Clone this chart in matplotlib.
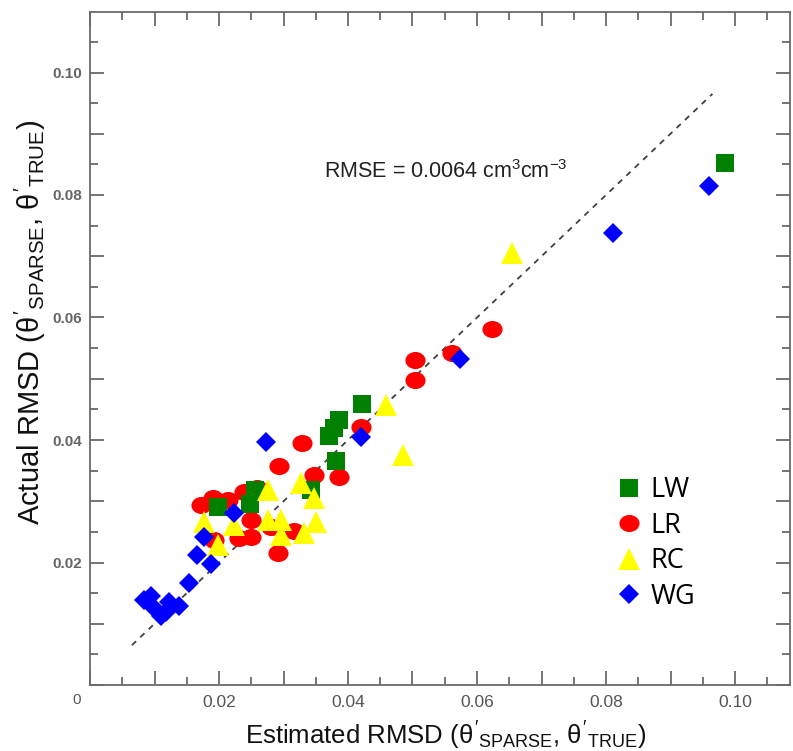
import matplotlib
matplotlib.use("Agg")
import matplotlib.pyplot as plt
from matplotlib import font_manager
from matplotlib.path import Path
from matplotlib.transforms import Affine2D
from matplotlib.ticker import MultipleLocator, FuncFormatter

# ---------------- data ----------------
lw_x = [0.0984, 0.0422, 0.0386, 0.0378, 0.0371, 0.0381, 0.0256, 0.0248, 0.0198, 0.0343]
lw_y = [0.0852, 0.0459, 0.0433, 0.0420, 0.0407, 0.0366, 0.0318, 0.0296, 0.0291, 0.0318]

lr_x = [0.0623, 0.0561, 0.0504, 0.0504, 0.0420, 0.0386, 0.0347, 0.0329, 0.0293, 0.0259,
        0.0239, 0.0214, 0.0191, 0.0172, 0.0250, 0.0231, 0.0250, 0.0281, 0.0316, 0.0291, 0.0192]
lr_y = [0.0581, 0.0542, 0.0531, 0.0498, 0.0421, 0.0340, 0.0343, 0.0395, 0.0358, 0.0322,
        0.0315, 0.0302, 0.0305, 0.0294, 0.0269, 0.0240, 0.0242, 0.0258, 0.0251, 0.0216, 0.0237]

rc_x = [0.0654, 0.0459, 0.0485, 0.0327, 0.0347, 0.0350, 0.0332, 0.0296, 0.0296, 0.0276,
        0.0276, 0.0223, 0.0177, 0.0198]
rc_y = [0.0705, 0.0457, 0.0376, 0.0330, 0.0305, 0.0266, 0.0248, 0.0269, 0.0245, 0.0318,
        0.0269, 0.0261, 0.0266, 0.0229]

wg_x = [0.0960, 0.0811, 0.0574, 0.0420, 0.0273, 0.0223, 0.0177, 0.0166, 0.0188, 0.0153,
        0.0084, 0.0095, 0.0099, 0.0110, 0.0122, 0.0138, 0.0118]
wg_y = [0.0815, 0.0738, 0.0532, 0.0405, 0.0397, 0.0281, 0.0242, 0.0212, 0.0198, 0.0167,
        0.0139, 0.0145, 0.0126, 0.0113, 0.0136, 0.0129, 0.0119]

line_x = [0.0065, 0.0965]
line_y = [0.0065, 0.0965]

x_ticklabels = ["0.02", "0.04", "0.06", "0.08", "0.10"]
y_ticklabels = ["0.02", "0.04", "0.06", "0.08", "0.10"]
rmse_text = "RMSE = 0.0064 cm$^{3}$cm$^{-3}$"

# ---------------- fonts ----------------
avail = {f.name for f in font_manager.fontManager.ttflist}
narrow = "Liberation Sans Narrow" if "Liberation Sans Narrow" in avail else "Liberation Sans"
plt.rcParams["font.family"] = ["Liberation Sans", "DejaVu Sans"]
plt.rcParams["mathtext.fontset"] = "custom"
plt.rcParams["mathtext.rm"] = narrow
plt.rcParams["mathtext.it"] = narrow
plt.rcParams["mathtext.bf"] = narrow

W, H = 793, 751
fig = plt.figure(figsize=(W / 100, H / 100), dpi=100)
L, R, T, B = 90, 790, 12, 685
ax = fig.add_axes([L / W, 1 - B / H, (R - L) / W, (B - T) / H])

xpp = 0.01 / 64.5   # data per pixel
ypp = 0.02 / 122.5
ax.set_xlim(0, (R - L) * xpp)
ax.set_ylim(0, (B - T) * ypp)

ellipse = Path.unit_circle().transformed(Affine2D().scale(1.18, 1.0))

ax.plot(line_x, line_y, color="#404040", lw=1.3, dashes=(3.2, 3.2), zorder=1)
ax.plot(lr_x, lr_y, ls="none", marker=ellipse, ms=14.5, mew=0, color="#ff0000", zorder=2, label="LR")
ax.plot(lw_x, lw_y, ls="none", marker="s", ms=13, mew=0, color="#008000", zorder=3, label="LW")
ax.plot(rc_x, rc_y, ls="none", marker="^", ms=15.5, mew=0, color="#ffff00", zorder=4, label="RC")
ax.plot(wg_x, wg_y, ls="none", marker="D", ms=10, mew=0, color="#0000ff", zorder=5, label="WG")

# ticks
for axis in (ax.xaxis, ax.yaxis):
    axis.set_major_locator(MultipleLocator(0.01))
    axis.set_minor_locator(MultipleLocator(0.005))

def fmt_factory(labels):
    def f(v, pos):
        k = int(round(v / 0.01))
        if k > 0 and k % 2 == 0 and k // 2 - 1 < len(labels):
            return labels[k // 2 - 1]
        return ""
    return f

ax.xaxis.set_major_formatter(FuncFormatter(fmt_factory(x_ticklabels)))
ax.yaxis.set_major_formatter(FuncFormatter(fmt_factory(y_ticklabels)))

ax.tick_params(which="both", direction="in", top=True, right=True, color="#6a6a6a", width=1.3)
ax.tick_params(which="major", length=10)
ax.tick_params(which="minor", length=5.5)
ax.tick_params(axis="x", which="major", pad=7, labelsize=12.5, labelcolor="#555555")
ax.tick_params(axis="y", which="major", pad=6, labelsize=11, labelcolor="#666666")
for lab in ax.get_xticklabels():
    lab.set_family([narrow, "DejaVu Sans"])
for lab in ax.get_yticklabels():
    lab.set_fontweight("bold")

for s in ax.spines.values():
    s.set_color("#6a6a6a")
    s.set_linewidth(1.3)

fig.text(77 / W, 1 - 700 / H, "0", ha="center", va="center", fontsize=11,
         color="#555555", family=[narrow, "DejaVu Sans"])

ax.set_xlabel(r"Estimated RMSD ($\theta'_{\mathrm{SPARSE}}$, $\theta'_{\mathrm{TRUE}}$)",
              fontsize=18.5, family=[narrow, "DejaVu Sans"], color="#111111")
ax.xaxis.set_label_coords((446 - L) / (R - L), (B - 720) / (B - T))
ax.set_ylabel(r"Actual RMSD ($\theta'_{\mathrm{SPARSE}}$, $\theta'_{\mathrm{TRUE}}$)",
              fontsize=21, family=[narrow, "DejaVu Sans"], color="#111111")
ax.yaxis.set_label_coords((48 - L) / (R - L), (B - 322) / (B - T))

ax.text(0.0363, 0.0838, rmse_text, fontsize=15.5, color="#222222", va="center", ha="left")

handles, labels = ax.get_legend_handles_labels()
order = [labels.index(k) for k in ["LW", "LR", "RC", "WG"]]
leg = ax.legend([handles[i] for i in order], [labels[i] for i in order],
                loc="upper left", bbox_to_anchor=((615 - L) / (R - L), (B - 476) / (B - T)),
                frameon=False, handlelength=1.0, handletextpad=0.3,
                labelspacing=0.28, borderaxespad=0, borderpad=0, numpoints=1,
                prop={"family": ["Open Sans", "DejaVu Sans"], "size": 19.5})

fig.savefig("out.png", dpi=100)
